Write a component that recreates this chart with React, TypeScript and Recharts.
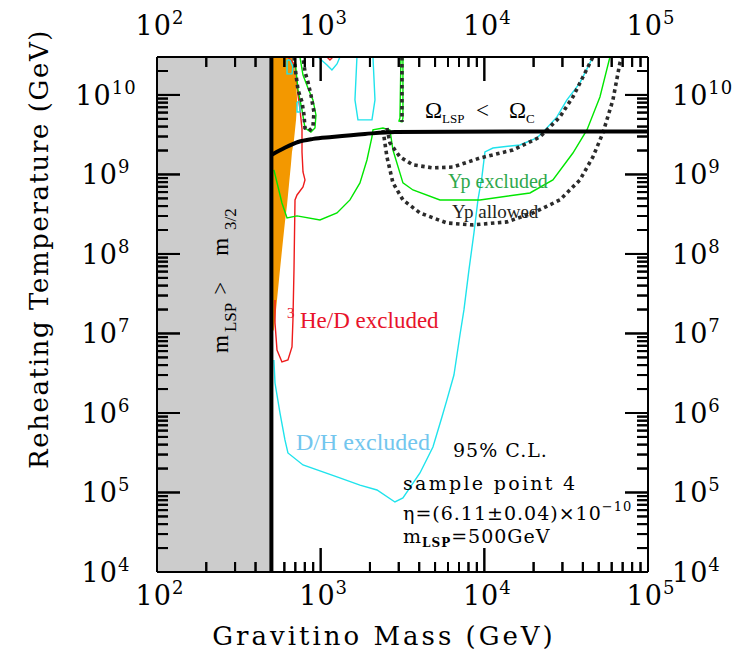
import React from "react";
import {
  ComposedChart,
  XAxis,
  YAxis,
  Line,
  Area,
  Scatter,
  ReferenceArea,
  ReferenceLine,
} from "recharts";

type P = [number, number];

// ---------- axes ----------
const xMajorTicks = [100, 1000, 10000, 100000];
const yMajorTicks = [1e4, 1e5, 1e6, 1e7, 1e8, 1e9, 1e10];
const xDomain: [number, number] = [100, 100000];
const yDomain: [number, number] = [1e4, 3e10];
const mLSP = 500;

// ---------- data (gravitino mass GeV, reheating temperature GeV) ----------
const omegaBoundary: P[] = [
  [500, 1.76e9], [560, 2.0e9], [600, 2.15e9], [727, 2.56e9], [900, 2.8e9],
  [1172, 2.96e9], [1865, 3.23e9], [2843, 3.42e9], [6000, 3.45e9], [100000, 3.47e9],
];

// orange excluded strip: [mass, lower T, upper T]
const orangeMass = [500, 518, 526, 541, 564, 589, 605, 623, 640, 658, 668, 687, 707, 717];
const orangeLow = [1.0e7, 1.11e7, 1.48e7, 2.64e7, 6.29e7, 1.5e8, 2.53e8, 4.13e8, 7.38e8, 1.32e9, 1.92e9, 2.72e9, 4.85e9, 7.5e9];
const orangeHigh = [3e10, 3e10, 3e10, 3e10, 3e10, 3e10, 3e10, 3e10, 3e10, 3e10, 3e10, 2.38e10, 1.55e10, 9.0e9];

const ypExcludedMain: P[] = [
  [518, 1.14e9], [580, 4.38e8], [623, 2.84e8], [717, 3.01e8], [990, 2.68e8],
  [1258, 3.28e8], [1510, 4.78e8], [1738, 7.82e8], [1918, 1.52e9], [2058, 2.96e9],
  [2087, 3.63e9], [2403, 3.84e9], [2651, 3.63e9], [2765, 2.03e9], [3182, 7.82e8],
  [3663, 6.38e8], [5356, 4.78e8], [9399, 4.78e8], [19000, 5.85e8], [26240, 8.53e8],
  [34770, 1.86e9], [42360, 3.63e9], [50850, 9.44e9], [58530, 3.0e10],
];
const ypExcludedLoop: P[] = [
  [747, 3.0e10], [780, 1.78e10], [836, 1.22e10], [897, 8.65e9], [936, 5.6e9],
  [923, 3.84e9], [872, 3.42e9], [802, 3.84e9], [769, 6.48e9], [727, 1.156e10],
  [707, 2.06e10], [697, 3.0e10],
];
const ypExcludedStem: P[] = [
  [3094, 3.0e10], [3051, 5.14e9], [3008, 4.7e9], [3138, 4.58e9], [3182, 5.14e9], [3182, 3.0e10],
];

const ypAllowedLoop: P[] = [
  [687, 3.0e10], [707, 1.78e10], [727, 1.156e10], [769, 8.17e9], [791, 5.6e9],
  [802, 3.84e9], [848, 3.53e9], [897, 3.96e9], [910, 6.11e9], [872, 1.0e10],
  [836, 1.46e10], [802, 1.95e10], [780, 3.0e10],
];
const ypAllowedStem: P[] = [[3138, 3.0e10], [3138, 4.58e9]];
const ypAllowedInner: P[] = [
  [2541, 3.84e9], [2651, 2.49e9], [3051, 1.66e9], [3663, 1.32e9], [4853, 1.21e9],
  [6430, 1.24e9], [9399, 1.61e9], [14950, 2.03e9], [21860, 2.96e9], [28950, 5.29e9],
  [34770, 9.44e9], [40030, 1.68e10], [46070, 3.0e10],
];
const ypAllowedOuter: P[] = [
  [2403, 3.63e9], [2541, 1.66e9], [2765, 7.82e8], [3182, 4.78e8], [4043, 3.28e8],
  [5907, 2.45e8], [8518, 2.32e8], [13740, 2.53e8], [19820, 3.28e8], [28950, 4.78e8],
  [38370, 8.53e8], [46070, 1.66e9], [53030, 3.33e9], [61050, 8.65e9], [67360, 2.53e10],
  [69270, 3.0e10],
];

const dhExcludedMain: P[] = [
  [46070, 3.0e10], [44170, 2.53e10], [38370, 1.42e10], [31960, 8.65e9], [27760, 5.29e9],
  [24120, 3.84e9], [20960, 2.88e9], [16500, 2.35e9], [11285, 2.15e9], [10085, 1.92e9],
  [9667, 9.3e8], [9140, 4.78e8], [8640, 1.84e8], [8054, 6.29e7], [7506, 1.98e7],
  [7096, 9.57e6], [6520, 3.0e6], [5907, 1.46e6], [5508, 8.9e5], [4853, 3.74e5],
  [4043, 1.76e5], [3182, 8.53e4], [2843, 7.6e4], [2208, 1.075e5], [1738, 1.24e5],
  [1258, 1.57e5], [780, 2.22e5], [631, 3.14e5], [605, 4.58e5], [564, 1.0e6],
  [526, 2.38e6], [518, 4.64e6],
];
const dhExcludedTall: P[] = [
  [1666, 3.0e10], [1620, 8.65e9], [1690, 4.85e9], [2058, 4.85e9], [2147, 8.65e9], [2087, 3.0e10],
];
const dhExcludedNotch: P[] = [
  [963, 3.0e10], [1093, 2.38e10], [1172, 2.06e10], [1258, 2.45e10], [1312, 3.0e10],
];
const dhExcludedIsle1: P[] = [
  [623, 2.75e10], [623, 1.84e10], [668, 1.84e10], [677, 2.25e10], [649, 2.75e10], [623, 2.75e10],
];
const dhExcludedIsle2: P[] = [
  [717, 8.17e9], [717, 6.11e9], [747, 6.11e9], [747, 8.17e9], [717, 8.17e9],
];

const he3Excluded: P[] = [
  [631, 3.0e10], [697, 2.38e10], [717, 1.34e10], [727, 1.0e10], [747, 6.67e9],
  [769, 3.74e9], [769, 1.92e9], [780, 1.075e9], [802, 8.53e8], [780, 6.96e8],
  [717, 5.52e8], [697, 4.78e8], [687, 6.29e7], [677, 1.48e7], [668, 6.77e6],
  [631, 4.64e6], [580, 4.38e6], [541, 6.2e6], [526, 1.36e7], [526, 2.64e7],
];
const he3Notch: P[] = [[1093, 3.0e10], [1140, 2.75e10], [1189, 3.0e10]];

// ---------- helpers ----------
const pts = (a: P[]) => a.map(([x, y]) => ({ x, y }));
const orangeData = orangeMass.map((x, i) => ({ x, r: [orangeLow[i], orangeHigh[i]] }));

const minorsOf = (majors: number[], max: number) => {
  const out: number[] = [];
  majors.forEach((m) => {
    for (let k = 2; k <= 9; k++) {
      const v = k * m;
      if (v <= max * 1.0000001) out.push(v);
    }
  });
  return out;
};
const xMinorTicks = minorsOf(xMajorTicks, xDomain[1]);
const yMinorTicks = minorsOf(yMajorTicks, yDomain[1]);
const xAllTicks = [...xMajorTicks, ...xMinorTicks].sort((a, b) => a - b);
const yAllTicks = [...yMajorTicks, ...yMinorTicks].sort((a, b) => a - b);

// tick-mark anchor points on the four frame edges (len = mark length, px)
const bottomMarks = [
  ...xMajorTicks.map((x) => ({ x, y: yDomain[0], len: 24 })),
  ...xMinorTicks.map((x) => ({ x, y: yDomain[0], len: 10 })),
];
const topMarks = [
  ...xMajorTicks.map((x) => ({ x, y: yDomain[1], len: 24 })),
  ...xMinorTicks.map((x) => ({ x, y: yDomain[1], len: 10 })),
];
const leftMarks = [
  ...yMajorTicks.map((y) => ({ x: xDomain[0], y, len: 23 })),
  ...yMinorTicks.map((y) => ({ x: xDomain[0], y, len: 11 })),
];
const rightMarks = [
  ...yMajorTicks.map((y) => ({ x: xDomain[1], y, len: 23 })),
  ...yMinorTicks.map((y) => ({ x: xDomain[1], y, len: 11 })),
];

const isMajor = (v: number) => {
  const l = Math.log10(v);
  return Math.abs(l - Math.round(l)) < 1e-6;
};
const expOf = (v: number) => Math.round(Math.log10(v));

const AX_FONT = "'DejaVu Serif', serif";
const TIMES = "'Liberation Serif', 'Times New Roman', serif";
const TICK_FS = 27;
const SUP_FS = 18;
const TICK_W = 2;

const Pow = ({ x, y, v, anchor }: { x: number; y: number; v: number; anchor: string }) => (
  <text x={x} y={y} textAnchor={anchor} fontFamily={AX_FONT} fontSize={TICK_FS} fill="#000" letterSpacing={1}>
    10
    <tspan dy={-11} fontSize={SUP_FS}>
      {expOf(v)}
    </tspan>
  </text>
);

const BottomTick = (p: any) => {
  const maj = isMajor(p.payload.value);
  return (
    <g>
      <line x1={p.x} x2={p.x} y1={p.y} y2={p.y - (maj ? 24 : 10)} stroke="#000" strokeWidth={TICK_W} />
      {maj && <Pow x={p.x + 3} y={p.y + 33} v={p.payload.value} anchor="middle" />}
    </g>
  );
};
const TopTick = (p: any) => {
  const maj = isMajor(p.payload.value);
  return (
    <g>
      <line x1={p.x} x2={p.x} y1={p.y} y2={p.y + (maj ? 24 : 10)} stroke="#000" strokeWidth={TICK_W} />
      {maj && <Pow x={p.x + 3} y={p.y - 22} v={p.payload.value} anchor="middle" />}
    </g>
  );
};
const LeftTick = (p: any) => {
  const maj = isMajor(p.payload.value);
  return (
    <g>
      <line x1={p.x} x2={p.x + (maj ? 23 : 11)} y1={p.y} y2={p.y} stroke="#000" strokeWidth={TICK_W} />
      {maj && <Pow x={p.x - 51} y={p.y + 10} v={p.payload.value} anchor="middle" />}
    </g>
  );
};
const RightTick = (p: any) => {
  const maj = isMajor(p.payload.value);
  return (
    <g>
      <line x1={p.x} x2={p.x - (maj ? 23 : 11)} y1={p.y} y2={p.y} stroke="#000" strokeWidth={TICK_W} />
      {maj && <Pow x={p.x + 24} y={p.y + 10} v={p.payload.value} anchor="start" />}
    </g>
  );
};

const markShape = (dx: number, dy: number) => (p: any) => {
  const { cx, cy, payload } = p;
  const len = (payload && payload.len) || 10;
  return (
    <path
      d={`M${cx},${cy}L${cx + dx * len},${cy + dy * len}`}
      stroke="#000"
      strokeWidth={TICK_W}
      fill="none"
    />
  );
};

const GREEN = "#00e600";
const CYAN = "#1fe3ec";
const RED = "#ee1b1b";
const DOTS = "#2b2b2b";
const FRAME = { stroke: "#000", strokeWidth: 2 };

const thin = (d: P[], color: string, key: string) => (
  <Line
    key={key}
    data={pts(d)}
    dataKey="y"
    xAxisId="b"
    yAxisId="l"
    type="linear"
    stroke={color}
    strokeWidth={1.4}
    dot={false}
    activeDot={false}
    isAnimationActive={false}
  />
);
const dotted = (d: P[], key: string) => (
  <Line
    key={key}
    data={pts(d)}
    dataKey="y"
    xAxisId="b"
    yAxisId="l"
    type="linear"
    stroke={DOTS}
    strokeWidth={3.6}
    strokeDasharray="3.5 3.5"
    dot={false}
    activeDot={false}
    isAnimationActive={false}
  />
);

const marks = (data: any[], dx: number, dy: number, key: string) => (
  <Scatter
    key={key}
    data={data}
    dataKey="y"
    xAxisId="b"
    yAxisId="l"
    shape={markShape(dx, dy)}
    isAnimationActive={false}
  />
);

export default function App() {
  return (
    <div style={{ position: "absolute", left: 0, top: 0, width: 738, height: 669, background: "#fff" }}>
      <ComposedChart width={738} height={669} margin={{ top: 0, right: 0, bottom: 0, left: 0 }}>
        <XAxis xAxisId="b" dataKey="x" type="number" scale="log" domain={xDomain} allowDataOverflow
          ticks={xAllTicks} interval={0} height={97} tickSize={0} tickMargin={0} tickLine={false}
          tick={BottomTick} axisLine={FRAME} />
        <XAxis xAxisId="t" orientation="top" dataKey="x" type="number" scale="log" domain={xDomain}
          allowDataOverflow ticks={xAllTicks} interval={0} height={57} tickSize={0} tickMargin={0}
          tickLine={false} tick={TopTick} axisLine={FRAME} />
        <YAxis yAxisId="l" dataKey="y" type="number" scale="log" domain={yDomain} allowDataOverflow
          ticks={yAllTicks} interval={0} width={157} tickSize={0} tickMargin={0} tickLine={false}
          tick={LeftTick} axisLine={FRAME} />
        <YAxis yAxisId="r" orientation="right" dataKey="y" type="number" scale="log" domain={yDomain}
          allowDataOverflow ticks={yAllTicks} interval={0} width={90} tickSize={0} tickMargin={0}
          tickLine={false} tick={RightTick} axisLine={FRAME} />
        <ReferenceArea
          xAxisId="b"
          yAxisId="l"
          x1={xDomain[0]}
          x2={mLSP}
          fill="#cccccc"
          fillOpacity={1}
          stroke="none"
        />
        <Area
          data={orangeData}
          dataKey="r"
          xAxisId="b"
          yAxisId="l"
          type="linear"
          fill="#f39800"
          fillOpacity={1}
          stroke="none"
          dot={false}
          activeDot={false}
          isAnimationActive={false}
        />
        {thin(he3Excluded, RED, "he3")}
        {thin(he3Notch, RED, "he3n")}
        {thin(dhExcludedMain, CYAN, "dh1")}
        {thin(dhExcludedTall, CYAN, "dh2")}
        {thin(dhExcludedNotch, CYAN, "dh3")}
        {thin(dhExcludedIsle1, CYAN, "dh4")}
        {thin(dhExcludedIsle2, CYAN, "dh5")}
        {thin(ypExcludedMain, GREEN, "yp1")}
        {thin(ypExcludedLoop, GREEN, "yp2")}
        {thin(ypExcludedStem, GREEN, "yp3")}
        {dotted(ypAllowedLoop, "ya1")}
        {dotted(ypAllowedStem, "ya2")}
        {dotted(ypAllowedInner, "ya3")}
        {dotted(ypAllowedOuter, "ya4")}
        <Line
          data={pts(omegaBoundary)}
          dataKey="y"
          xAxisId="b"
          yAxisId="l"
          type="monotone"
          stroke="#000"
          strokeWidth={4}
          dot={false}
          activeDot={false}
          isAnimationActive={false}
        />
        <ReferenceLine xAxisId="b" yAxisId="l" x={mLSP} stroke="#000" strokeWidth={4} />
        {marks(bottomMarks, 0, -1, "mb")}
        {marks(topMarks, 0, 1, "mt")}
        {marks(leftMarks, 1, 0, "ml")}
        {marks(rightMarks, -1, 0, "mr")}
      </ComposedChart>

      <svg
        width={738}
        height={669}
        style={{ position: "absolute", left: 0, top: 0, pointerEvents: "none" }}
      >
        {/* axis titles */}
        <text x={384} y={645} textAnchor="middle" fontFamily={AX_FONT} fontSize={26} letterSpacing={3} fill="#000">
          Gravitino Mass (GeV)
        </text>
        <text
          transform="translate(48 249) rotate(-90)"
          textAnchor="middle"
          fontFamily={AX_FONT}
          fontSize={26}
          letterSpacing={1.6}
          fill="#000"
        >
          Reheating Temperature (GeV)
        </text>

        {/* region labels */}
        <text x={425} y={118} fontFamily={TIMES} fontSize={23} fill="#000">
          Ω<tspan fontSize={13} dy={5}>LSP</tspan>
          <tspan x={476} dy={-5}>&lt;</tspan>
          <tspan x={509}>Ω</tspan>
          <tspan fontSize={13} dy={5}>C</tspan>
        </text>
        <text x={448} y={188} fontFamily={TIMES} fontSize={20} fill="#2ea84c">
          Yp excluded
        </text>
        <text x={452} y={218} fontFamily={TIMES} fontSize={19} fill="#231f20">
          Yp allowed
        </text>
        <text x={287} y={318} fontFamily={TIMES} fontSize={15} fill="#e8132b">
          3
        </text>
        <text x={300} y={328} fontFamily={TIMES} fontSize={23} fill="#e8132b">
          He/D excluded
        </text>
        <text x={296} y={450} fontFamily={TIMES} fontSize={24} fill="#72c6ee">
          D/H excluded
        </text>
        <text
          transform="translate(228 353) rotate(-90)"
          fontFamily={TIMES}
          fontSize={23}
          fill="#000"
        >
          m<tspan fontSize={17} dy={8} dx={3}>LSP</tspan>
          <tspan dy={-8} dx={8}>&gt;</tspan>
          <tspan dx={26}>m</tspan>
          <tspan fontSize={17} dy={8} dx={8}>3/2</tspan>
        </text>

        {/* sample point info */}
        <g fontFamily={AX_FONT} fontSize={19} fill="#000">
          <text x={453} y={457} letterSpacing={1}>95% C.L.</text>
          <text x={403} y={490} letterSpacing={2.3}>sample point 4</text>
          <text x={403} y={520} letterSpacing={1}>
            η=(6.11±0.04)×10<tspan dy={-9} fontSize={13}>−10</tspan>
          </text>
          <text x={403} y={543} letterSpacing={1}>
            m<tspan fontSize={12} dy={4} fontWeight="bold">LSP</tspan>
            <tspan dy={-4}>=500GeV</tspan>
          </text>
        </g>
      </svg>
    </div>
  );
}
